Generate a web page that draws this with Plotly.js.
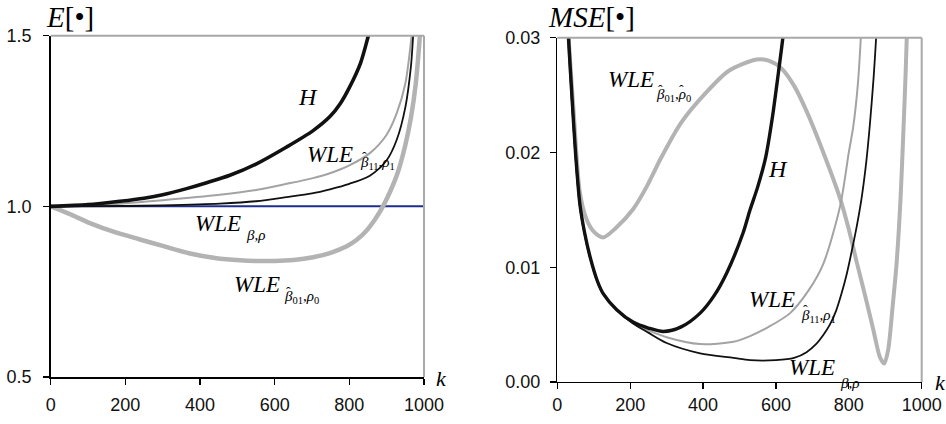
<!DOCTYPE html>
<html>
<head>
<meta charset="utf-8">
<script src="https://cdn.plot.ly/plotly-3.0.1.min.js"></script>
<style>html,body{margin:0;padding:0;background:#fff;}#chart{width:946px;height:424px;}</style>
</head>
<body>
<div id="chart"></div>
<script>
// ---------- Left panel: E[•] ----------
const eH_k   = [0, 100, 186, 250, 300, 364, 420, 480, 550, 632, 703, 748, 775, 800, 830, 851, 870];
const eH_v   = [1.0, 1.005, 1.015, 1.024, 1.034, 1.052, 1.070, 1.091, 1.124, 1.174, 1.222, 1.263, 1.300, 1.348, 1.42, 1.5, 1.58];

const eW11_k = [0, 100, 186, 300, 453, 550, 632, 700, 748, 800, 855, 900, 927, 950, 967, 975];
const eW11_v = [1.0, 1.003, 1.008, 1.018, 1.034, 1.048, 1.066, 1.082, 1.097, 1.12, 1.156, 1.21, 1.273, 1.36, 1.5, 1.58];

const eWb_k  = [0, 200, 300, 453, 550, 632, 700, 748, 800, 855, 900, 927, 950, 965, 971, 978];
const eWb_v  = [1.0, 1.001, 1.003, 1.008, 1.015, 1.027, 1.038, 1.05, 1.066, 1.09, 1.135, 1.195, 1.29, 1.41, 1.5, 1.6];

const eW01_k = [0, 50, 105, 170, 239, 300, 373, 440, 507, 550, 600, 650, 703, 750, 793, 820, 845, 870, 890, 910, 930, 950, 965, 978, 989, 995];
const eW01_v = [1.0, 0.978, 0.951, 0.925, 0.903, 0.884, 0.862, 0.849, 0.842, 0.840, 0.840, 0.843, 0.851, 0.864, 0.883, 0.902, 0.928, 0.964, 1.0, 1.045, 1.10, 1.18, 1.26, 1.36, 1.5, 1.6];

const eWbr_k = [0, 1000];
const eWbr_v = [1.0, 1.0];

// ---------- Right panel: MSE[•] ----------
const mH_k   = [25, 30, 40, 50, 62, 75, 90, 110, 126, 163, 209, 250, 291, 340, 392, 430, 465, 510, 529, 550, 572, 590, 607, 619, 625];
const mH_v   = [0.034, 0.0305, 0.025, 0.020, 0.0155, 0.0130, 0.0109, 0.0088, 0.0077, 0.0063, 0.0052, 0.0047, 0.0044, 0.0048, 0.0060, 0.0075, 0.0095, 0.0130, 0.0150, 0.0170, 0.0196, 0.0230, 0.0270, 0.0300, 0.032];

const mW11_k = [25, 30, 40, 50, 62, 75, 90, 110, 126, 163, 209, 250, 300, 392, 483, 529, 580, 639, 690, 730, 776, 800, 812, 825, 833, 838];
const mW11_v = [0.034, 0.0305, 0.025, 0.020, 0.0155, 0.0130, 0.0109, 0.0088, 0.0077, 0.0063, 0.0051, 0.0045, 0.0039, 0.0033, 0.0035, 0.0040, 0.0048, 0.0060, 0.0080, 0.0103, 0.0153, 0.0200, 0.0222, 0.026, 0.030, 0.033];

const mWb_k  = [24, 29, 39, 49, 61, 74, 89, 109, 125, 162, 208, 250, 300, 392, 483, 529, 600, 650, 684, 710, 730, 748, 765, 780, 795, 810, 822, 835, 848, 858, 868, 875, 880];
const mWb_v  = [0.034, 0.0305, 0.025, 0.020, 0.0155, 0.0130, 0.0109, 0.0088, 0.0077, 0.0063, 0.0051, 0.0043, 0.0034, 0.0025, 0.0021, 0.0019, 0.0019, 0.0021, 0.0026, 0.0033, 0.0041, 0.0050, 0.0062, 0.0077, 0.0095, 0.0117, 0.0136, 0.0160, 0.0192, 0.0225, 0.0265, 0.0300, 0.033];

const mW01_k = [25, 30, 45, 62, 80, 100, 126, 160, 209, 245, 286, 340, 405, 470, 547, 580, 616, 650, 684, 730, 776, 800, 822, 845, 867, 885, 897, 908, 920, 931, 942, 950, 956, 960, 963];
const mW01_v = [0.034, 0.0305, 0.0235, 0.0165, 0.0142, 0.0131, 0.0126, 0.0134, 0.0151, 0.0170, 0.0196, 0.0226, 0.0251, 0.0271, 0.0281, 0.0280, 0.0273, 0.0258, 0.0236, 0.0200, 0.0160, 0.0133, 0.0104, 0.0075, 0.0046, 0.0022, 0.0016, 0.0028, 0.0065, 0.0103, 0.0160, 0.0220, 0.0270, 0.0310, 0.034];

const xTicks = [0, 200, 400, 600, 800, 1000];
const xTickText = ['0', '200', '400', '600', '800', '1000'];
const eTicks = [0.5, 1.0, 1.5];
const eTickText = ['0.5', '1.0', '1.5'];
const mTicks = [0, 0.01, 0.02, 0.03];
const mTickText = ['0.00', '0.01', '0.02', '0.03'];

const BLACK = '#111111';
const THIN_GRAY = '#a3a3a3';
const THICK_GRAY = '#b3b3b3';
const BLUE = '#1e2e8e';

function tr(x, y, color, width, xa, ya) {
  return {x: x, y: y, type: 'scatter', mode: 'lines', xaxis: xa, yaxis: ya,
          line: {color: color, width: width, shape: 'spline', smoothing: 0.8},
          hoverinfo: 'skip', showlegend: false};
}

const data = [
  tr(eWbr_k, eWbr_v, BLUE, 2, 'x', 'y'),
  tr(eW01_k, eW01_v, THICK_GRAY, 4.5, 'x', 'y'),
  tr(eW11_k, eW11_v, THIN_GRAY, 2, 'x', 'y'),
  tr(eWb_k, eWb_v, BLACK, 1.8, 'x', 'y'),
  tr(eH_k, eH_v, BLACK, 3.6, 'x', 'y'),

  tr(mW01_k, mW01_v, THICK_GRAY, 4, 'x2', 'y2'),
  tr(mW11_k, mW11_v, THIN_GRAY, 2, 'x2', 'y2'),
  tr(mWb_k, mWb_v, BLACK, 1.8, 'x2', 'y2'),
  tr(mH_k, mH_v, BLACK, 3.4, 'x2', 'y2')
];

const tickFont = {family: 'Liberation Sans, Arial, sans-serif', size: 18, color: '#111'};
const serif = 'Liberation Serif, Times New Roman, serif';

function xax(domain, standoff) {
  return {domain: domain, range: [0, 1000], tickvals: xTicks, ticktext: xTickText,
          showline: true, linecolor: '#000', linewidth: 1.5, ticks: 'outside', ticklen: 6,
          tickwidth: 1.2, tickcolor: '#000', showgrid: false, zeroline: false,
          tickfont: tickFont, ticklabelstandoff: standoff, fixedrange: true};
}
function yax(domain, range, tv, tt, anchor, standoff) {
  return {domain: domain, range: range, tickvals: tv, ticktext: tt, anchor: anchor,
          showline: true, linecolor: '#000', linewidth: 1.5, ticks: 'outside', ticklen: 6,
          tickwidth: 1.2, tickcolor: '#000', showgrid: false, zeroline: false,
          tickfont: tickFont, ticklabelstandoff: standoff, fixedrange: true};
}

const LX = [0.0536, 0.4482], LY = [0.1108, 0.9158];
const RX = [0.5891, 0.9743], RY = [0.0991, 0.9111];

function border(dx, dy) {
  return [
    {type: 'line', xref: 'paper', yref: 'paper', x0: dx[0], x1: dx[1], y0: dy[1], y1: dy[1], line: {color: '#a8a8a8', width: 2}},
    {type: 'line', xref: 'paper', yref: 'paper', x0: dx[1], x1: dx[1], y0: dy[0], y1: dy[1], line: {color: '#a8a8a8', width: 2}}
  ];
}

function lab(text, x, y, xr, yr, size) {
  return {text: text, x: x, y: y, xref: xr, yref: yr, xanchor: 'left', yanchor: 'middle',
          showarrow: false, font: {family: serif, size: size, color: '#000'}, borderpad: 0};
}
function hat(x, y, xr, yr, dx) {
  return {text: 'ˆ', x: x, y: y, xref: xr, yref: yr, xanchor: 'left', yanchor: 'middle',
          xshift: dx, yshift: 5, showarrow: false, font: {family: serif, size: 14, color: '#000'}, borderpad: 0};
}

const annotations = [
  // titles (centre-anchored)
  {text: '<i>E</i>[•]', x: 0.0740, y: 0.96, xref: 'paper', yref: 'paper', xanchor: 'center', yanchor: 'middle', showarrow: false, font: {family: serif, size: 29, color: '#000'}},
  {text: '<i>MSE</i>[•]', x: 0.6255, y: 0.96, xref: 'paper', yref: 'paper', xanchor: 'center', yanchor: 'middle', showarrow: false, font: {family: serif, size: 29, color: '#000'}},
  {text: '<i>k</i>', x: 0.459, y: 0.107, xref: 'paper', yref: 'paper', xanchor: 'left', yanchor: 'middle', showarrow: false, font: {family: serif, size: 22, color: '#000'}},
  {text: '<i>k</i>', x: 0.986, y: 0.099, xref: 'paper', yref: 'paper', xanchor: 'left', yanchor: 'middle', showarrow: false, font: {family: serif, size: 22, color: '#000'}},

  // left panel labels
  lab('<i>H</i>', 660, 1.321, 'x', 'y', 24),
  lab('<i>WLE</i>', 684, 1.151, 'x', 'y', 23),
  lab('<i>β</i><sub>11</sub>,<i>ρ</i><sub>1</sub>', 826, 1.128, 'x', 'y', 15),
  hat(826, 1.128, 'x', 'y', 2),
  lab('<i>WLE</i>', 384, 0.951, 'x', 'y', 23),
  lab('<i>β</i>,<i>ρ</i>', 520, 0.916, 'x', 'y', 15),
  lab('<i>WLE</i>', 488, 0.771, 'x', 'y', 23),
  lab('<i>β</i><sub>01</sub>,<i>ρ</i><sub>0</sub>', 622, 0.733, 'x', 'y', 15),
  hat(622, 0.733, 'x', 'y', 2),

  // right panel labels
  lab('<i>WLE</i>', 136, 0.0264, 'x2', 'y2', 23),
  lab('<i>β</i><sub>01</sub>,<i>ρ</i><sub>0</sub>', 268, 0.0250, 'x2', 'y2', 15),
  hat(268, 0.0250, 'x2', 'y2', 2),
  hat(268, 0.0250, 'x2', 'y2', 23),
  lab('<i>H</i>', 575, 0.0186, 'x2', 'y2', 24),
  lab('<i>WLE</i>', 522, 0.00719, 'x2', 'y2', 23),
  lab('<i>β</i><sub>11</sub>,<i>ρ</i><sub>1</sub>', 666, 0.00575, 'x2', 'y2', 15),
  hat(666, 0.00575, 'x2', 'y2', 2),
  lab('<i>WLE</i>', 633, 0.00122, 'x2', 'y2', 23),
  {text: '<i>β</i>,<i>ρ</i>', x: 0.8869, y: 0.0967, xref: 'paper', yref: 'paper', xanchor: 'left', yanchor: 'middle',
   showarrow: false, font: {family: serif, size: 15, color: '#000'}, borderpad: 0}
];

const layout = {
  width: 946, height: 424,
  margin: {l: 0, r: 0, t: 0, b: 0},
  paper_bgcolor: '#fff', plot_bgcolor: '#fff',
  showlegend: false,
  xaxis: Object.assign(xax(LX, 5), {anchor: 'y'}),
  yaxis: yax(LY, [0.5, 1.5], eTicks, eTickText, 'x', 8),
  xaxis2: Object.assign(xax(RX, 0), {anchor: 'y2'}),
  yaxis2: yax(RY, [0, 0.03], mTicks, mTickText, 'x2', 6),
  shapes: border(LX, LY).concat(border(RX, RY)),
  annotations: annotations
};

Plotly.newPlot('chart', data, layout, {displayModeBar: false, staticPlot: true});
</script>
</body>
</html>
